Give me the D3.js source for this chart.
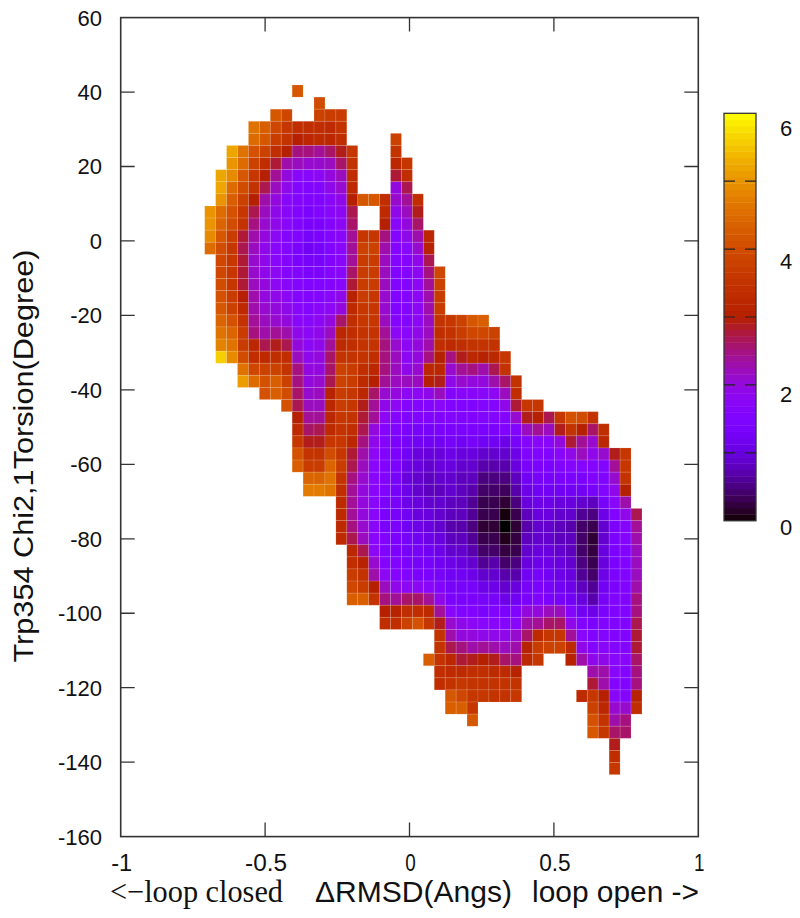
<!DOCTYPE html>
<html>
<head>
<meta charset="utf-8">
<script src="https://cdnjs.cloudflare.com/ajax/libs/d3/7.8.5/d3.min.js"></script>
<style>
  body { margin: 0; background: #fff; }
  svg { display: block; }
  text { font-family: "Liberation Sans", Arial, sans-serif; fill: #111; }
</style>
</head>
<body>
<div id="wrapper"></div>
<script>
// axis ticks
var xTicks = [-1, -0.5, 0, 0.5, 1];
var yTicks = [60, 40, 20, 0, -20, -40, -60, -80, -100, -120, -140, -160];
var barTicks = [1, 2, 3, 4, 5];
var barLabels = [0, 2, 4, 6];

// histogram bins (Angs / degrees)
var binX0 = -0.7091, binDX = 0.03785;
var binY0 = 41.9, binDY = 3.25;

// first column of each row, top row first
var rowStart = [8, 10, 6, 4, 4, 2, 2, 1, 1, 1, 0, 0, 0, 0, 1, 1, 1, 1, 1, 1, 1, 1, 1, 3, 3, 5, 7, 8, 8, 8, 8, 8,
  9, 9, 12, 12, 12, 12, 13, 13, 13, 13, 13, 16, 16, 21, 21, 20, 21, 21, 22, 22, 24, 35, 37, 37, 37];

// free energy per cell, null = no sample
var energy = [
  [4.2],
  [4.0],
  [4.2,3.9,null,null,3.8,3.7,3.7],
  [4.6,4.3,3.9,3.6,3.4,3.4,3.4,3.3,3.5],
  [4.5,4.2,3.7,3.5,3.0,3.2,3.3,3.2,3.4,null,null,null,null,3.8],
  [5.2,4.6,4.1,3.8,3.4,3.0,2.5,2.5,2.4,2.6,2.9,3.6,null,null,null,3.5],
  [5.0,4.5,3.8,3.4,2.8,2.3,2.2,2.1,2.1,2.2,2.6,3.5,null,null,null,3.2,3.6],
  [5.2,4.9,4.2,3.6,3.0,2.4,2.0,1.7,1.7,1.8,2.0,2.2,3.4,null,null,null,2.8,3.4],
  [5.2,4.5,4.0,3.5,2.7,2.2,1.9,1.6,1.5,1.6,1.9,2.1,3.3,null,null,null,2.0,2.7],
  [5.0,4.3,3.8,3.0,2.3,2.0,1.7,1.6,1.5,1.5,1.7,1.9,3.0,4.2,4.2,3.4,2.1,2.4,3.4],
  [5.0,4.5,4.1,3.6,2.7,2.2,1.9,1.7,1.5,1.4,1.5,1.7,1.8,2.7,null,null,3.3,1.9,2.2,2.9],
  [5.0,4.4,4.0,3.5,2.5,2.1,1.9,1.7,1.5,1.4,1.4,1.6,1.8,2.6,null,null,3.0,1.7,2.0,2.6],
  [4.9,4.2,3.7,2.8,2.3,2.0,1.8,1.6,1.5,1.3,1.4,1.6,1.7,2.4,3.6,3.6,2.5,1.6,1.9,2.3,3.2],
  [4.5,4.0,3.6,2.7,2.2,1.9,1.7,1.6,1.4,1.2,1.3,1.5,1.7,2.4,3.8,3.8,2.3,1.6,1.7,2.1,3.1],
  [3.9,3.6,2.8,2.1,1.9,1.7,1.6,1.4,1.3,1.3,1.5,1.7,2.4,3.7,3.7,2.2,1.6,1.6,1.9,2.7],
  [3.9,3.6,2.8,2.1,1.9,1.8,1.6,1.5,1.4,1.4,1.6,1.7,2.6,3.7,3.7,2.2,1.5,1.6,1.8,2.5,3.9],
  [4.0,3.6,2.8,2.2,2.0,1.8,1.7,1.6,1.5,1.5,1.6,1.7,2.8,3.7,3.7,2.2,1.5,1.6,1.8,2.4,3.8],
  [4.1,3.7,3.0,2.3,2.0,1.9,1.8,1.6,1.6,1.6,1.7,1.9,3.1,3.7,3.6,2.1,1.5,1.6,1.8,2.3,3.7],
  [4.2,3.8,3.3,2.3,2.1,2.0,1.9,1.7,1.6,1.7,1.8,2.0,3.3,3.6,3.6,2.1,1.5,1.6,1.8,2.3,3.7],
  [4.4,4.1,3.5,2.4,2.2,2.1,2.0,1.7,1.7,1.8,2.0,2.6,3.4,3.6,3.6,2.2,1.6,1.6,1.8,2.2,3.5,3.6,3.8,4.2,4.3],
  [4.6,4.4,3.7,2.5,2.3,2.4,2.3,1.9,1.8,1.9,2.2,3.2,3.4,3.5,3.5,2.4,1.8,1.7,1.9,2.2,3.4,3.5,3.7,3.9,3.9,3.8],
  [4.8,4.6,3.7,3.2,2.7,2.9,2.7,2.0,1.8,1.9,2.4,3.3,3.4,3.5,3.5,2.5,2.1,1.8,2.0,2.3,3.4,3.3,3.4,3.5,3.5,3.5],
  [5.6,4.9,4.0,3.4,3.3,3.4,3.4,2.2,1.9,2.0,2.6,3.5,3.5,3.5,3.4,2.5,2.2,1.8,2.0,2.5,3.0,2.5,2.9,3.2,3.1,3.2,3.6],
  [4.6,3.9,3.8,3.8,3.5,2.5,2.0,2.0,2.6,3.8,3.7,3.4,3.2,2.5,2.2,1.9,2.1,3.2,3.2,2.1,2.4,2.5,2.3,2.7,3.5],
  [5.1,4.5,4.1,4.3,3.8,2.5,2.0,2.1,2.7,3.8,3.7,3.3,3.0,2.4,2.2,2.2,2.2,3.0,2.9,1.9,2.1,2.0,2.0,2.3,2.6,3.5],
  [4.1,4.3,4.0,2.6,2.1,2.2,3.1,3.7,3.6,3.2,2.6,2.1,2.0,1.8,1.8,1.9,2.2,1.6,1.7,1.7,1.7,1.8,2.2,3.4],
  [4.1,2.7,2.2,2.2,3.2,3.7,3.6,2.9,2.4,1.9,1.8,1.6,1.6,1.6,1.7,1.5,1.5,1.5,1.6,1.6,1.9,2.8,3.6,3.6],
  [3.0,2.4,2.4,3.2,3.6,3.5,2.8,2.4,1.8,1.6,1.5,1.5,1.5,1.5,1.6,1.5,1.5,1.5,1.6,1.6,2.1,2.9,3.0,2.7,3.6,4.1,4.0,3.5],
  [3.3,2.6,2.7,3.3,3.5,3.4,2.7,2.0,1.6,1.5,1.4,1.3,1.3,1.4,1.4,1.4,1.4,1.4,1.4,1.5,1.5,2.2,2.4,2.2,2.9,3.5,3.0,2.6,3.4],
  [3.6,2.9,2.9,3.6,3.6,3.2,2.5,1.9,1.6,1.4,1.3,1.2,1.2,1.2,1.3,1.2,1.3,1.2,1.2,1.1,1.3,1.6,1.7,1.7,2.0,2.8,2.4,2.1,3.2],
  [4.1,3.5,3.5,4.0,3.6,2.8,2.3,1.8,1.5,1.4,1.2,1.0,1.0,1.0,1.1,1.0,1.0,.9,.9,.9,1.1,1.5,1.5,1.5,1.7,1.9,2.2,1.9,2.1,2.9,3.6],
  [4.3,3.7,3.7,4.4,3.7,2.7,2.2,1.7,1.5,1.4,1.1,1.0,.9,1.0,1.0,.9,.9,.7,.7,.7,1.0,1.4,1.4,1.4,1.5,1.6,1.6,1.6,1.6,2.4,3.6],
  [4.4,4.4,4.6,3.5,2.5,2.1,1.7,1.5,1.3,1.0,.9,.8,.9,.9,.8,.8,.5,.5,.5,.8,1.2,1.3,1.3,1.4,1.4,1.4,1.5,1.5,2.1,3.5],
  [4.7,4.7,4.6,3.4,2.4,2.0,1.7,1.5,1.3,1.1,.9,.8,.8,.9,.8,.7,.4,.4,.35,.7,1.1,1.2,1.2,1.2,1.2,1.2,1.3,1.5,1.9,3.0],
  [3.3,2.4,2.0,1.7,1.4,1.3,1.1,1.0,.9,.9,.8,.8,.6,.3,.3,.2,.5,1.0,1.1,1.1,1.0,1.0,.9,.8,1.3,1.7,2.3],
  [3.3,2.4,2.0,1.7,1.4,1.3,1.2,1.0,1.0,.9,.8,.8,.6,.3,.3,.05,.3,.8,1.0,1.0,.9,.9,.6,.5,1.1,1.5,1.9,2.7],
  [3.3,2.5,2.1,1.7,1.4,1.4,1.2,1.1,1.0,.9,.7,.7,.5,.2,.2,0,.2,.7,.9,.9,.8,.7,.4,.3,.9,1.4,1.6,2.4],
  [3.3,2.7,2.2,1.7,1.5,1.4,1.3,1.2,1.1,1.0,.8,.8,.6,.3,.3,.1,.25,.8,.9,.9,.8,.8,.4,.2,.9,1.4,1.6,2.3],
  [3.2,2.7,1.8,1.5,1.4,1.3,1.3,1.2,1.1,.9,.9,.7,.4,.4,.25,.3,.9,1.0,1.0,.9,.8,.4,.25,1.0,1.4,1.5,2.2],
  [3.4,3.1,2.1,1.6,1.5,1.4,1.3,1.3,1.2,1.1,1.0,.9,.6,.7,.4,.5,1.0,1.1,1.1,1.0,.9,.5,.3,1.0,1.4,1.5,2.2],
  [3.7,3.5,2.3,1.8,1.6,1.5,1.4,1.4,1.3,1.2,1.2,1.1,.9,.9,.7,.7,1.2,1.3,1.2,1.1,1.0,.6,.4,1.1,1.4,1.5,2.2],
  [3.9,3.7,3.0,2.2,1.9,1.8,1.8,1.7,1.5,1.3,1.3,1.3,1.1,1.1,.9,1.0,1.3,1.4,1.3,1.2,1.1,.8,.6,1.2,1.4,1.5,2.3],
  [4.3,4.3,3.5,2.5,2.4,2.6,2.6,2.4,1.9,1.4,1.4,1.4,1.3,1.3,1.1,1.2,1.4,1.5,1.4,1.3,1.2,1.0,.7,1.3,1.5,1.5,2.5],
  [3.0,3.1,3.4,3.4,3.3,2.4,1.7,1.5,1.5,1.4,1.5,1.4,1.5,2.0,2.0,2.2,2.2,1.6,1.2,1.1,1.4,1.5,1.5,2.5],
  [3.4,3.4,3.8,4.1,3.6,2.9,2.1,1.9,1.8,1.7,1.7,1.6,1.7,2.3,2.4,2.6,2.6,1.9,1.5,1.4,1.5,1.5,1.5,2.7],
  [3.5,2.3,2.0,2.0,1.9,1.9,1.9,2.1,2.6,3.3,3.6,3.6,2.4,1.7,1.5,1.6,1.5,1.5,2.8],
  [3.5,2.7,2.5,2.3,2.4,2.3,2.2,2.3,3.1,3.7,3.8,3.8,3.3,1.9,1.6,1.7,1.6,1.6,2.8],
  [4.3,3.5,3.2,2.8,2.9,3.0,2.9,2.6,2.5,3.2,3.6,null,null,3.1,2.3,1.9,1.9,1.7,1.7,2.6],
  [3.4,3.3,3.3,3.4,3.4,3.3,3.3,3.1,null,null,null,null,null,null,2.3,2.3,1.7,1.6,2.5],
  [3.4,3.5,3.6,3.5,3.5,3.5,3.5,3.5,null,null,null,null,null,null,2.8,2.3,1.6,1.5,2.5],
  [4.2,3.9,3.6,3.6,3.5,3.5,3.6,null,null,null,null,null,3.3,3.6,3.0,1.7,1.6,3.1],
  [4.3,4.3,3.6,null,null,null,null,null,null,null,null,null,null,3.8,3.2,2.1,2.1,3.4],
  [4.2,null,null,null,null,null,null,null,null,null,null,4.1,3.5,2.3,2.5],
  [4.2,3.6,2.6,2.6],
  [2.9],
  [3.4],
  [3.6]
];

var width = 800, height = 918;
var margin = {left: 120.7, right: 698.3, top: 17.6, bottom: 836.6};

var x = d3.scaleLinear().domain([-1, 1]).range([margin.left, margin.right]);
var y = d3.scaleLinear().domain([-160, 60]).range([margin.bottom, margin.top]);

// colour bar
var barScale = d3.scaleLinear().domain([0, 6]).range([520.7, 113.3]);
var barLabelScale = d3.scaleLinear().domain([0, 6]).range([526.7, 128.3]);

// gnuplot default pm3d palette (rgbformulae 7,5,15)
function palette(v) {
  var t = Math.max(0, Math.min(1, v / 6));
  var b = Math.max(0, Math.sin(2 * Math.PI * t));
  return d3.rgb(255 * Math.sqrt(t), 255 * t * t * t, 255 * b).formatHex();
}

var svg = d3.select("#wrapper").append("svg")
    .attr("width", width)
    .attr("height", height);

// flatten the rows into cells
var cells = [];
energy.forEach(function(row, j) {
  row.forEach(function(v, k) {
    if (v !== null) {
      cells.push({col: rowStart[j] + k, row: j, value: v});
    }
  });
});

var cellW = x(binDX) - x(0);
var cellH = y(0) - y(binDY);

svg.append("g")
    .style("filter", "blur(0.6px)")
  .selectAll("rect")
    .data(cells)
  .enter().append("rect")
    .attr("x", function(d) { return x(binX0 + d.col * binDX); })
    .attr("y", function(d) { return y(binY0 - d.row * binDY); })
    .attr("width", cellW)
    .attr("height", cellH)
    .attr("fill", function(d) { return palette(d.value); })
    .attr("stroke", "#fff")
    .attr("stroke-opacity", 0.13)
    .attr("stroke-width", 0.9);

// frame and mirrored ticks
var ink = "#333";
svg.append("rect")
    .attr("x", margin.left)
    .attr("y", margin.top)
    .attr("width", margin.right - margin.left)
    .attr("height", margin.bottom - margin.top)
    .attr("fill", "none")
    .attr("stroke", ink)
    .attr("stroke-width", 1.6);

var tickLen = 14;

svg.append("g").selectAll("line")
    .data(xTicks.slice(1, -1))
  .enter().append("path")
    .attr("d", function(d) {
      return "M" + x(d) + "," + margin.top + "v" + tickLen + "M" + x(d) + "," + margin.bottom + "v" + (-tickLen);
    })
    .attr("stroke", ink)
    .attr("stroke-width", 1.3);

svg.append("g").selectAll("line")
    .data(yTicks.slice(1, -1))
  .enter().append("path")
    .attr("d", function(d) {
      return "M" + margin.left + "," + y(d) + "h" + tickLen + "M" + margin.right + "," + y(d) + "h" + (-tickLen);
    })
    .attr("stroke", ink)
    .attr("stroke-width", 1.3);

// tick labels
svg.append("g").selectAll("text")
    .data(yTicks)
  .enter().append("text")
    .attr("x", 102)
    .attr("y", function(d) { return y(d); })
    .attr("dy", "0.36em")
    .attr("text-anchor", "end")
    .style("font-size", "22px")
    .text(function(d) { return d; });

svg.append("g").selectAll("text")
    .data(xTicks)
  .enter().append("text")
    .attr("x", function(d) { return x(d) + 1; })
    .attr("y", 871)
    .attr("text-anchor", "middle")
    .attr("textLength", function(d) { return String(d).length * 10.5; })
    .attr("lengthAdjust", "spacingAndGlyphs")
    .style("font-size", "24px")
    .text(function(d) { return d; });

// axis titles
svg.append("text")
    .attr("x", 110)
    .attr("y", 902)
    .attr("textLength", 173)
    .attr("lengthAdjust", "spacingAndGlyphs")
    .style("font-family", "'Liberation Serif', serif")
    .style("font-size", "31px")
    .text("<\u2212loop closed");

svg.append("text")
    .attr("x", 315)
    .attr("y", 902)
    .attr("textLength", 197)
    .attr("lengthAdjust", "spacingAndGlyphs")
    .style("font-size", "29px")
    .text("\u0394RMSD(Angs)");

svg.append("text")
    .attr("x", 532)
    .attr("y", 902)
    .attr("textLength", 167)
    .attr("lengthAdjust", "spacingAndGlyphs")
    .style("font-size", "29px")
    .text("loop open ->");

svg.append("text")
    .attr("transform", "translate(33,456) rotate(-90)")
    .attr("text-anchor", "middle")
    .attr("textLength", 413)
    .attr("lengthAdjust", "spacingAndGlyphs")
    .style("font-size", "27px")
    .text("Trp354 Chi2,1Torsion(Degree)");

// colour bar, drawn in 64 steps like the pm3d box
var steps = d3.range(64);
var stepH = (barScale(0) - barScale(6)) / 64;
svg.append("g").selectAll("rect")
    .data(steps)
  .enter().append("rect")
    .attr("x", 724)
    .attr("width", 32)
    .attr("y", function(d) { return barScale((d + 1) * 6 / 64); })
    .attr("height", stepH + 0.4)
    .attr("fill", function(d) { return palette((d + 0.5) * 6 / 64); });

svg.append("rect")
    .attr("x", 724)
    .attr("y", barScale(6))
    .attr("width", 32)
    .attr("height", barScale(0) - barScale(6))
    .attr("fill", "none")
    .attr("stroke", ink)
    .attr("stroke-width", 1.3);

svg.append("g").selectAll("path")
    .data(barTicks)
  .enter().append("path")
    .attr("d", function(d) {
      return "M724," + barScale(d) + "h11M745," + barScale(d) + "h11";
    })
    .attr("stroke", "#222")
    .attr("stroke-width", 1.2);

svg.append("g").selectAll("text")
    .data(barLabels)
  .enter().append("text")
    .attr("x", 780)
    .attr("y", function(d) { return barLabelScale(d); })
    .attr("dy", "0.36em")
    .style("font-size", "22px")
    .text(function(d) { return d; });
</script>
</body>
</html>
